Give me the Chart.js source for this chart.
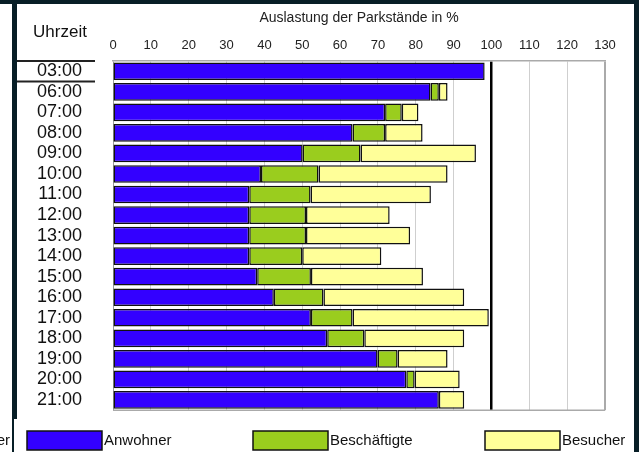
<!DOCTYPE html>
<html>
<head>
<meta charset="utf-8">
<script src="https://cdn.jsdelivr.net/npm/chart.js@4"></script>
<style>
  html, body { margin: 0; padding: 0; background: #fff; }
  #wrap { width: 639px; height: 452px; }
</style>
</head>
<body>
<div id="wrap"><canvas id="chart" width="639" height="452"></canvas></div>
<script>
// Uhrzeiten (Kategorien)
const hours = ["03:00", "06:00", "07:00", "08:00", "09:00", "10:00", "11:00", "12:00",
               "13:00", "14:00", "15:00", "16:00", "17:00", "18:00", "19:00", "20:00", "21:00"];

// Auslastung in % je Nutzergruppe (gestapelt)
const anwohner     = [98.2, 83.9, 71.9, 63.3, 50.1, 39.1, 36.0, 36.0, 36.0, 36.0, 38.1, 42.5, 52.3, 56.6, 69.9, 77.5, 86.1];
const beschaeftigte = [null, 2.2, 4.4, 8.6, 15.3, 15.2, 16.2, 15.0, 15.0, 14.0, 14.2, 13.1, 11.0, 9.8, 5.3, 2.2, null];
const besucher     = [null, 2.3, 4.4, 9.9, 30.5, 34.1, 31.8, 22.1, 27.5, 20.9, 29.6, 37.2, 36.0, 26.4, 13.2, 11.9, 6.7];

const xTicks = { min: 0, max: 130, step: 10 };

const FONT = "Arial, 'Liberation Sans', sans-serif";
const FRAME = '#071e26';

// Zusatzbeschriftung, Legende und Rahmen
const extras = {
    id: 'extras',
    afterDraw(chart) {
        const ctx = chart.ctx;
        const area = chart.chartArea;
        const y = chart.scales.y;
        ctx.save();

        // untere Rahmenlinie
        ctx.strokeStyle = '#aaa';
        ctx.lineWidth = 1.5;
        ctx.beginPath();
        ctx.moveTo(area.left, area.bottom);
        ctx.lineTo(area.right, area.bottom);
        ctx.stroke();

        // "Uhrzeit"
        ctx.fillStyle = '#111';
        ctx.font = '17px ' + FONT;
        ctx.textAlign = 'center';
        ctx.textBaseline = 'middle';
        ctx.fillText('Uhrzeit', 60, 32);

        // Linien um 03:00
        const half = (y.getPixelForValue(1) - y.getPixelForValue(0)) / 2;
        const y0 = y.getPixelForValue(0);
        ctx.strokeStyle = '#222';
        ctx.lineWidth = 2;
        ctx.beginPath();
        ctx.moveTo(17, y0 - half); ctx.lineTo(95, y0 - half);
        ctx.moveTo(17, y0 + half); ctx.lineTo(95, y0 + half);
        ctx.stroke();

        // Legende
        const legendX = [27, 253, 485];
        ctx.font = '15px ' + FONT;
        ctx.textAlign = 'left';
        chart.data.datasets.forEach((ds, i) => {
            ctx.fillStyle = ds.backgroundColor;
            ctx.fillRect(legendX[i], 431, 75, 19);
            ctx.strokeStyle = '#111';
            ctx.lineWidth = 1.5;
            ctx.strokeRect(legendX[i], 431, 75, 19);
            ctx.fillStyle = '#111';
            ctx.fillText(ds.label, legendX[i] + 77, 441);
        });
        ctx.textAlign = 'right';
        ctx.fillText('er', 10, 441);

        // dunkler Rahmen
        ctx.fillStyle = FRAME;
        ctx.fillRect(0, 0, 639, 4);
        ctx.fillRect(12, 0, 5, 419);
        ctx.fillRect(12, 419, 2, 33);
        ctx.fillRect(634, 0, 5, 452);
        ctx.restore();
    }
};

new Chart(document.getElementById('chart'), {
    type: 'bar',
    data: {
        labels: hours,
        datasets: [
            { label: 'Anwohner', data: anwohner, backgroundColor: '#3300ff' },
            { label: 'Beschäftigte', data: beschaeftigte, backgroundColor: '#9acd1e' },
            { label: 'Besucher', data: besucher, backgroundColor: '#ffff99' }
        ].map(d => Object.assign(d, {
            borderColor: '#111',
            borderWidth: 1.5,
            borderSkipped: false,
            barPercentage: 0.86,
            categoryPercentage: 1
        }))
    },
    options: {
        indexAxis: 'y',
        responsive: false,
        animation: false,
        layout: { padding: { left: 18, right: 34, top: 0, bottom: 38 } },
        plugins: {
            legend: { display: false },
            tooltip: { enabled: false }
        },
        scales: {
            x: {
                position: 'top',
                stacked: true,
                min: xTicks.min,
                max: xTicks.max,
                afterFit: s => { s.height = 61; },
                ticks: {
                    stepSize: xTicks.step,
                    color: '#222',
                    font: { family: FONT, size: 13 },
                    padding: 8,
                    maxRotation: 0,
                    autoSkip: false
                },
                grid: {
                    drawTicks: false,
                    color: c => c.tick.value === 100 ? '#000' : (c.tick.value === 130 ? '#aaa' : (c.tick.value === 0 ? '#999' : '#cfcfcf')),
                    lineWidth: c => c.tick.value === 100 ? 2.5 : (c.tick.value === 130 ? 2 : 1)
                },
                border: { display: true, color: '#aaa', width: 1.5 },
                title: {
                    display: true,
                    text: 'Auslastung der Parkstände in %',
                    color: '#222',
                    font: { family: FONT, size: 14 },
                    padding: { top: 10, bottom: 0 }
                }
            },
            y: {
                stacked: true,
                afterFit: s => { s.width = 95; },
                ticks: {
                    color: '#111',
                    font: { family: FONT, size: 18 },
                    padding: 31,
                    autoSkip: false
                },
                grid: { display: false, drawTicks: false },
                border: { display: false }
            }
        }
    },
    plugins: [extras]
});
</script>
</body>
</html>
